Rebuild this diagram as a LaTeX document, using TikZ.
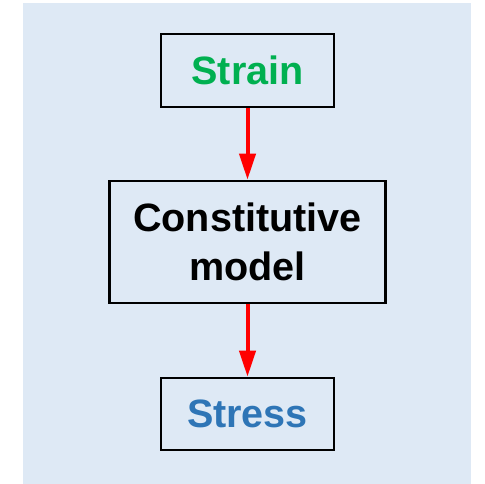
\documentclass[tikz,border=0pt]{standalone}
\usepackage{fontspec}
\setmainfont{Liberation Sans}
\usepackage{tikz}
\usetikzlibrary{arrows.meta, positioning}
\definecolor{panelblue}{HTML}{DEE9F5}
\definecolor{straingreen}{HTML}{00B050}
\definecolor{stressblue}{HTML}{2E75B6}
\tikzstyle{modelbox} = [
    draw=black,
    line width=2.6bp,
    fill=panelblue,
    inner sep=0pt,
    align=center,
    font=\fontsize{39.7}{49}\selectfont\bfseries
]
\tikzstyle{flowarrow} = [
    draw=red,
    line width=4bp,
    -{Triangle[length=26bp, width=16bp]}
]

\begin{document}
\begin{tikzpicture}[x=1bp, y=-1bp]

\useasboundingbox (0,0) rectangle (485,484);
\fill[panelblue] (23,3) rectangle (471,484);

\node [modelbox,
    minimum width=173bp,
    minimum height=73bp,
    text=straingreen
]  (strain) at (247.5,70.5) {Strain};

\node [modelbox,
    minimum width=276bp,
    minimum height=122bp,
    below=71.4bp of strain
]  (model) {Constitutive\\model};

\node [modelbox,
    minimum width=173bp,
    minimum height=72bp,
    text=stressblue,
    below=72.4bp of model
]  (stress) {Stress};

\draw[flowarrow] (strain.south) -- (model.north);
\draw[flowarrow] (model.south) -- (stress.north);

\end{tikzpicture}
\end{document}
